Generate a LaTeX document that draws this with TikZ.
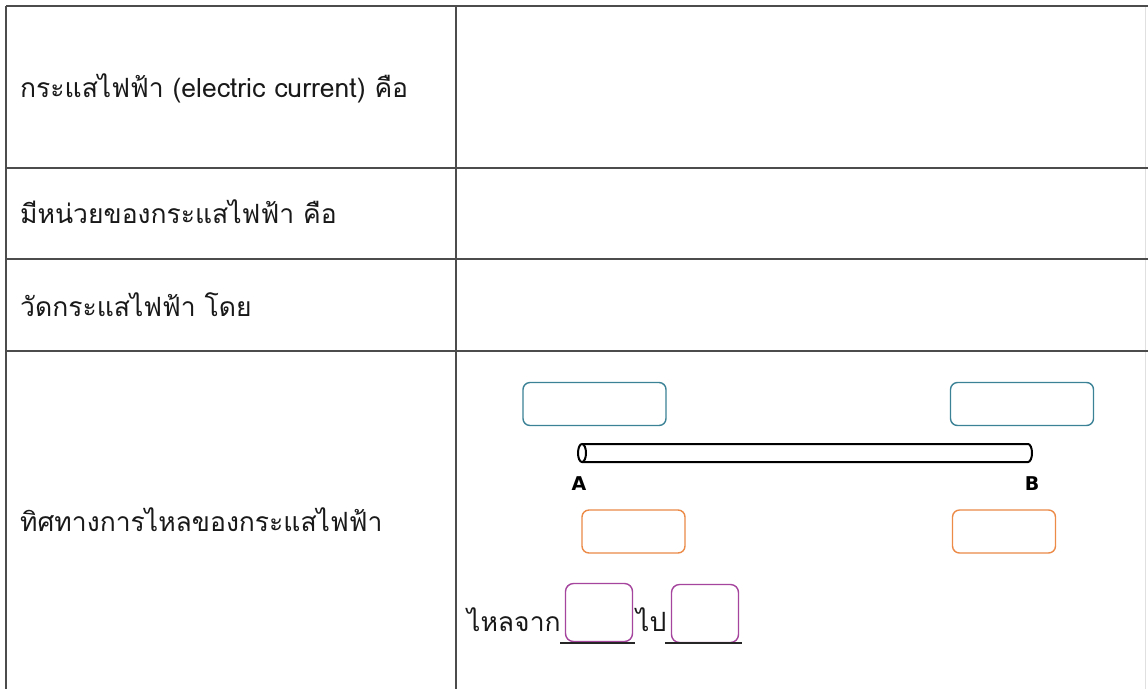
\documentclass[tikz,border=0pt]{standalone}
\usepackage{fontspec}
\newfontfamily\thaifont[Script=Thai]{Loma}
\newfontfamily\labfont{DejaVu Sans}
\definecolor{boxblue}{HTML}{3C8296}
\definecolor{boxorange}{HTML}{EC8A48}
\definecolor{boxpurple}{HTML}{A5459E}
\begin{document}
\begin{tikzpicture}[x=1pt,y=-1pt,
  grid/.style={draw=black!70,line width=1.6pt},
  lbl/.style={anchor=west,inner sep=0pt,font=\thaifont\fontsize{26.5}{30}\selectfont,text=black!90},
  bluebox/.style={draw=boxblue,line width=1.4pt,rounded corners=7pt,minimum width=143pt,minimum height=43pt,inner sep=0pt},
  orangebox/.style={draw=boxorange,line width=1.4pt,rounded corners=7pt,minimum width=103pt,minimum height=43pt,inner sep=0pt},
  purplebox/.style={draw=boxpurple,line width=1.4pt,rounded corners=8pt,minimum width=67pt,minimum height=58pt,inner sep=0pt},
  endlbl/.style={font=\labfont\bfseries\fontsize{19}{21}\selectfont,inner sep=0pt}]
\useasboundingbox (0,0) rectangle (1148,689);
\fill[white] (0,0) rectangle (1148,689);
% table grid
\coordinate (tl) at (6,6);
\coordinate (tr) at (1148,6);
\coordinate (bl) at (6,689);
\coordinate (ct) at (456,6);
\coordinate (cb) at (456,689);
\coordinate (r1l) at (6,168);  \coordinate (r1r) at (1148,168);
\coordinate (r2l) at (6,259);  \coordinate (r2r) at (1148,259);
\coordinate (r3l) at (6,351);  \coordinate (r3r) at (1148,351);
\coordinate (rt) at (1145,6); \coordinate (rb) at (1145,689);
\draw[draw=black!12,line width=1pt] (rt) -- (rb);
\draw[grid] (tl) -- (tr);
\draw[grid] (tl) -- (bl);
\draw[grid] (ct) -- (cb);
\draw[grid] (r1l) -- (r1r);
\draw[grid] (r2l) -- (r2r);
\draw[grid] (r3l) -- (r3r);
% left labels
\node[lbl] (t1) at (20,88) {กระแสไฟฟ้า (electric current) คือ};
\node[lbl] (t2) at (20,212) {มีหน่วยของกระแสไฟฟ้า คือ};
\node[lbl] (t3) at (20,305) {วัดกระแสไฟฟ้า โดย};
\node[lbl] (t4) at (20,520) {ทิศทางการไหลของกระแสไฟฟ้า};
% boxes
\node[bluebox] (b1) at (594.5,404) {};
\node[bluebox] (b2) at (1022,404) {};
\node[orangebox] (o1) at (633.5,531.5) {};
\node[orangebox] (o2) at (1004,531.5) {};
% wire
\coordinate (wl) at (582,453);
\coordinate (wr) at (1028,453);
\draw[line width=2pt,black] (582,444) -- (1028,444) arc[start angle=90,end angle=-90,x radius=4pt,y radius=9pt] -- (582,462);
\draw[line width=2pt,black] (wl) ellipse[x radius=4pt,y radius=9pt];
\node[endlbl] (A) at (579,484) {A};
\node[endlbl] (B) at (1032,484) {B};
% flow line
\node[lbl] (f1) at (467,620) {ไหลจาก};
\node[purplebox] (p1) at (599,612.5) {};
\node[lbl] (f2) at (636,620) {ไป};
\node[purplebox] (p2) at (705,613.5) {};
\coordinate (u1a) at (560,643); \coordinate (u1b) at (635,643);
\coordinate (u2a) at (665,643); \coordinate (u2b) at (742,643);
\draw[line width=1.5pt,black!85] (u1a) -- (u1b);
\draw[line width=1.5pt,black!85] (u2a) -- (u2b);
\end{tikzpicture}
\end{document}
